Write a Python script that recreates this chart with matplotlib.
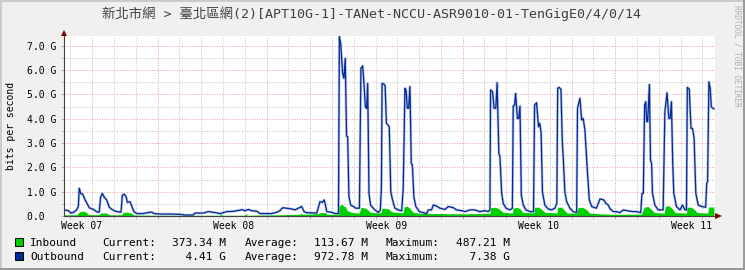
import matplotlib
matplotlib.use("Agg")
import matplotlib.pyplot as plt
from matplotlib.patches import Rectangle, Polygon
import matplotlib.transforms as mtransforms

# ---------------- data ----------------
title = "新北市網 > 臺北區網(2)[APT10G-1]-TANet-NCCU-ASR9010-01-TenGigE0/4/0/14"
y_label = "bits per second"
watermark = "RRDTOOL / TOBI OETIKER"

week_labels = ["Week 07", "Week 08", "Week 09", "Week 10", "Week 11"]
week_label_days = [0.5, 7.5, 14.5, 21.5, 28.5]
week_start_days = [4, 11, 18, 25]
day_lines = list(range(0, 30))
y_ticks = [0, 1, 2, 3, 4, 5, 6, 7]
y_tick_labels = ["0.0  ", "1.0 G", "2.0 G", "3.0 G", "4.0 G", "5.0 G", "6.0 G", "7.0 G"]
y_minor = [0.5, 1.5, 2.5, 3.5, 4.5, 5.5, 6.5]
x_min, x_max = -0.298, 29.58
y_max = 7.4

# Outbound (Gbit/s), time in days
out_t = [-0.30, -0.10, 0.01, 0.16, 0.28, 0.36, 0.40, 0.47, 0.56, 0.67, 0.77, 0.86,
         1.05, 1.23, 1.32, 1.38, 1.46, 1.55, 1.66, 1.78, 1.93, 2.12, 2.32, 2.38,
         2.46, 2.55, 2.61, 2.73, 2.82, 2.91, 3.04, 3.34, 3.62, 3.73, 3.83, 4.11,
         4.57, 5.02, 5.25, 5.63, 5.71, 6.10, 6.32, 6.63, 6.86, 7.17, 7.47, 7.70,
         7.90, 8.01, 8.16, 8.31, 8.57, 8.70, 9.23, 9.46, 9.61, 9.74, 9.92, 10.15,
         10.30, 10.46, 10.61, 10.72, 10.81, 11.30, 11.39, 11.45, 11.56, 11.64, 11.70, 11.76,
         11.99, 12.14, 12.30, 12.34, 12.40, 12.49, 12.55, 12.61, 12.67, 12.72, 12.78, 12.86,
         12.98, 13.10, 13.26, 13.33, 13.41, 13.47, 13.53, 13.59, 13.64, 13.70, 13.77, 13.97,
         14.13, 14.22, 14.27, 14.30, 14.38, 14.44, 14.50, 14.57, 14.63, 14.70, 14.78, 14.89,
         15.04, 15.20, 15.27, 15.35, 15.40, 15.46, 15.52, 15.58, 15.64, 15.69, 15.76, 15.85,
         16.01, 16.19, 16.35, 16.42, 16.57, 16.65, 16.80, 16.96, 17.19, 17.34, 17.57, 17.72,
         17.95, 18.11, 18.33, 18.56, 18.79, 19.02, 19.17, 19.25, 19.28, 19.37, 19.44, 19.52,
         19.58, 19.66, 19.71, 19.79, 19.86, 19.99, 20.17, 20.28, 20.32, 20.38, 20.43, 20.51,
         20.57, 20.63, 20.69, 20.78, 20.90, 21.09, 21.25, 21.30, 21.39, 21.48, 21.54, 21.60,
         21.66, 21.77, 21.92, 22.08, 22.23, 22.32, 22.36, 22.42, 22.51, 22.57, 22.62, 22.69,
         22.77, 22.92, 23.07, 23.23, 23.27, 23.38, 23.46, 23.53, 23.61, 23.72, 23.81, 23.92,
         24.14, 24.30, 24.48, 24.57, 24.68, 24.76, 24.91, 25.06, 25.22, 25.37, 25.60, 25.83,
         25.98, 26.17, 26.23, 26.29, 26.35, 26.40, 26.45, 26.49, 26.57, 26.62, 26.67, 26.71,
         26.82, 26.97, 27.20, 27.28, 27.38, 27.46, 27.52, 27.58, 27.64, 27.69, 27.81, 27.97,
         28.09, 28.20, 28.27, 28.31, 28.40, 28.48, 28.55, 28.62, 28.70, 28.81, 28.96, 29.15,
         29.20, 29.24, 29.30, 29.36, 29.41, 29.48, 29.53]
out_v = [0.25, 0.22, 0.12, 0.16, 0.25, 0.39, 1.14, 0.92, 0.90, 0.66, 0.50, 0.34,
         0.27, 0.16, 0.16, 0.77, 0.93, 0.77, 0.66, 0.36, 0.25, 0.18, 0.16, 0.85,
         0.90, 0.80, 0.56, 0.59, 0.39, 0.18, 0.10, 0.10, 0.15, 0.16, 0.10, 0.08,
         0.08, 0.07, 0.04, 0.04, 0.12, 0.12, 0.18, 0.14, 0.10, 0.18, 0.19, 0.23,
         0.26, 0.21, 0.27, 0.22, 0.19, 0.10, 0.10, 0.15, 0.22, 0.34, 0.32, 0.29,
         0.25, 0.32, 0.39, 0.18, 0.14, 0.12, 0.39, 0.59, 0.56, 0.66, 0.45, 0.18,
         0.15, 0.10, 0.10, 7.38, 7.10, 5.86, 5.66, 6.48, 3.29, 3.26, 0.79, 0.45,
         0.39, 0.32, 0.32, 6.07, 6.17, 5.45, 4.49, 4.42, 5.45, 0.93, 0.45, 0.25,
         0.14, 0.25, 1.20, 5.45, 5.43, 5.35, 3.81, 3.74, 3.67, 0.99, 0.66, 0.32,
         0.25, 0.21, 1.11, 5.25, 5.18, 4.43, 4.43, 5.32, 2.16, 2.10, 0.79, 0.39,
         0.18, 0.14, 0.10, 0.25, 0.25, 0.45, 0.41, 0.32, 0.27, 0.39, 0.34, 0.25,
         0.22, 0.18, 0.25, 0.25, 0.18, 0.22, 0.18, 0.25, 5.18, 5.11, 4.43, 4.43,
         5.48, 2.58, 2.44, 0.93, 0.52, 0.32, 0.25, 0.32, 4.52, 4.56, 5.04, 4.01,
         4.01, 4.52, 0.86, 0.45, 0.25, 0.18, 0.18, 4.56, 4.66, 3.67, 3.81, 3.40,
         0.99, 0.45, 0.29, 0.25, 0.32, 0.52, 5.25, 5.29, 5.21, 3.12, 2.30, 0.99,
         0.59, 0.32, 0.18, 0.14, 4.43, 4.84, 3.95, 4.01, 3.53, 1.89, 0.66, 0.39,
         0.32, 0.70, 0.66, 0.52, 0.45, 0.30, 0.18, 0.18, 0.14, 0.25, 0.21, 0.18,
         0.18, 0.14, 0.93, 0.93, 4.56, 4.70, 3.88, 3.88, 5.41, 2.30, 2.16, 0.93,
         0.45, 0.25, 0.25, 4.29, 5.07, 4.01, 4.01, 4.70, 2.16, 0.93, 0.39, 0.25,
         0.45, 0.25, 0.25, 5.29, 5.21, 3.60, 3.60, 3.20, 0.93, 0.45, 0.39, 0.36,
         1.34, 1.41, 5.52, 5.25, 4.49, 4.43, 4.41]

# Inbound (Gbit/s), time in days
in_t = [-0.30, 0.30, 0.38, 0.45, 0.60, 0.72, 0.82, 1.30, 1.38, 1.55, 1.70, 1.80,
        2.35, 2.42, 2.60, 2.80, 2.90, 4.00, 6.85, 6.90, 6.95, 8.00, 8.05, 8.10,
        9.60, 10.50, 10.60, 10.72, 11.38, 11.45, 11.70, 11.78, 12.30, 12.34, 12.40, 12.45,
        12.55, 12.62, 12.68, 12.80, 12.95, 13.25, 13.33, 13.45, 13.55, 13.65, 13.75, 14.10,
        14.25, 14.30, 14.45, 14.62, 14.70, 14.80, 15.25, 15.32, 15.45, 15.58, 15.65, 15.75,
        16.00, 17.00, 18.00, 19.25, 19.28, 19.50, 19.65, 19.72, 19.85, 20.28, 20.32, 20.50,
        20.65, 20.75, 21.27, 21.30, 21.50, 21.65, 21.78, 22.33, 22.36, 22.55, 22.68, 22.80,
        23.25, 23.28, 23.50, 23.70, 23.82, 24.30, 25.00, 26.20, 26.33, 26.50, 26.68, 26.80,
        27.25, 27.30, 27.45, 27.62, 27.74, 28.27, 28.30, 28.50, 28.65, 28.76, 29.25, 29.28,
        29.53]
in_v = [0.05, 0.05, 0.15, 0.18, 0.20, 0.15, 0.06, 0.05, 0.12, 0.13, 0.10, 0.05,
        0.05, 0.15, 0.16, 0.12, 0.04, 0.03, 0.03, 0.10, 0.03, 0.03, 0.10, 0.03,
        0.05, 0.07, 0.10, 0.07, 0.10, 0.14, 0.14, 0.07, 0.07, 0.42, 0.45, 0.487,
        0.40, 0.38, 0.25, 0.18, 0.14, 0.12, 0.36, 0.34, 0.32, 0.25, 0.16, 0.12,
        0.14, 0.32, 0.32, 0.28, 0.20, 0.16, 0.13, 0.38, 0.40, 0.32, 0.22, 0.15,
        0.11, 0.10, 0.09, 0.11, 0.34, 0.36, 0.30, 0.25, 0.15, 0.12, 0.33, 0.35,
        0.28, 0.15, 0.13, 0.36, 0.36, 0.25, 0.15, 0.13, 0.36, 0.36, 0.22, 0.12,
        0.12, 0.34, 0.36, 0.25, 0.12, 0.09, 0.07, 0.08, 0.36, 0.39, 0.25, 0.14,
        0.12, 0.40, 0.43, 0.30, 0.14, 0.12, 0.36, 0.36, 0.25, 0.14, 0.12, 0.37,
        0.37]

legend_names = ["Inbound", "Outbound"]
legend_colors = ["#00CF00", "#002A97"]
current_vals = ["373.34 M", "  4.41 G"]
average_vals = ["113.67 M", "972.78 M"]
maximum_vals = ["487.21 M", "  7.38 G"]

# ---------------- figure ----------------
W, H = 745, 270
MONO = "DejaVu Sans Mono"
fig = plt.figure(figsize=(W / 100, H / 100), dpi=100, facecolor="#F0F0F0")


def fx(x):
    return x / W


def fy(y):
    return 1 - y / H


ax = fig.add_axes([fx(64), fy(216), (715 - 64) / W, (216 - 36) / H])
ax.set_facecolor("white")
ax.set_xlim(x_min, x_max)
ax.set_ylim(0, y_max)

for s in ["top", "right"]:
    ax.spines[s].set_visible(False)
for s in ["left", "bottom"]:
    ax.spines[s].set_color("#404040")
    ax.spines[s].set_linewidth(0.8)
    ax.spines[s].set_zorder(5)

ax.set_xticks(week_start_days)
ax.set_xticks([d for d in day_lines if d not in week_start_days], minor=True)
ax.set_yticks(y_ticks)
ax.set_yticks(y_minor, minor=True)
ax.set_yticklabels(y_tick_labels, fontsize=7, family=MONO)
ax.tick_params(axis="x", which="both", labelbottom=False, length=2, width=0.7)
ax.tick_params(axis="x", which="major", color="#E59A9A")
ax.tick_params(axis="x", which="minor", color="#C0C0C0")
ax.tick_params(axis="y", which="major", length=2, width=0.7, color="#E59A9A", pad=3.2)
ax.tick_params(axis="y", which="minor", length=2, width=0.7, color="#C0C0C0")

ax.set_axisbelow(True)
ax.grid(which="minor", color="#C4C4C4", linewidth=0.72, linestyle=(0, (1, 1.5)))
ax.grid(which="major", color="#EBA0A0", linewidth=0.72, linestyle=(0, (1, 1.5)))

ax.fill_between(in_t, 0, in_v, color=legend_colors[0], linewidth=0, zorder=2)
# soft anti-aliasing halo like rrdtool's rendering, then the line itself
ax.plot(out_t, out_v, color="#6F86C4", linewidth=1.9, alpha=0.45, zorder=3,
        solid_joinstyle="round")
ax.plot(out_t, out_v, color=legend_colors[1], linewidth=0.9, zorder=4,
        solid_joinstyle="round")

# arrows
fig.add_artist(Polygon([(fx(61), fy(36)), (fx(67), fy(36)), (fx(64), fy(30))],
                       closed=True, facecolor="#7F0000", edgecolor="none",
                       transform=fig.transFigure))
fig.add_artist(Polygon([(fx(715), fy(213)), (fx(715), fy(219)), (fx(722), fy(216))],
                       closed=True, facecolor="#7F0000", edgecolor="none",
                       transform=fig.transFigure))

# week labels
trans = mtransforms.blended_transform_factory(ax.transData, fig.transFigure)
for d, lab in zip(week_label_days, week_labels):
    ax.text(d, fy(229.3), lab, transform=trans, ha="center", va="baseline",
            fontsize=7, family=MONO, color="black", clip_on=False)

# title, axis label, watermark
fig.text(fx(371), fy(14), title, ha="center", va="center", fontsize=9.6,
         family=[MONO, "Noto Sans CJK TC"], color="#404040")
fig.text(fx(11), fy(126), y_label, rotation=90, ha="center", va="center",
         fontsize=7, family=MONO, color="black")
fig.text(fx(737.5), fy(5), watermark, rotation=270, ha="center", va="top",
         fontsize=5.6, family=MONO, color="#B0B0B0")

# legend
rows_y = [246.3, 260.3]
for i in range(2):
    yb = rows_y[i]
    fig.add_artist(Rectangle((fx(15), fy(yb)), 8 / W, 8.6 / H, transform=fig.transFigure,
                             facecolor=legend_colors[i], edgecolor="black", linewidth=0.7))
    for xpos, txt in [(30.3, legend_names[i]), (102.3, "Current:"), (172.0, current_vals[i]),
                      (244.3, "Average:"), (314.3, average_vals[i]),
                      (385.7, "Maximum:"), (456.0, maximum_vals[i])]:
        fig.text(fx(xpos), fy(yb), txt, ha="left", va="baseline", fontsize=8,
                 family=MONO, color="black")

# 3D frame
fig.add_artist(Rectangle((0, 1 - 2 / H), 1, 2 / H, transform=fig.transFigure,
                         facecolor="#CBCBCB", edgecolor="none"))
fig.add_artist(Rectangle((0, 0), 2 / W, 1, transform=fig.transFigure,
                         facecolor="#CBCBCB", edgecolor="none"))
fig.add_artist(Rectangle((0, 0), 1, 2 / H, transform=fig.transFigure,
                         facecolor="#999999", edgecolor="none"))
fig.add_artist(Rectangle((1 - 2 / W, 0), 2 / W, 1, transform=fig.transFigure,
                         facecolor="#999999", edgecolor="none"))

fig.savefig("out.png", dpi=100, facecolor=fig.get_facecolor())
